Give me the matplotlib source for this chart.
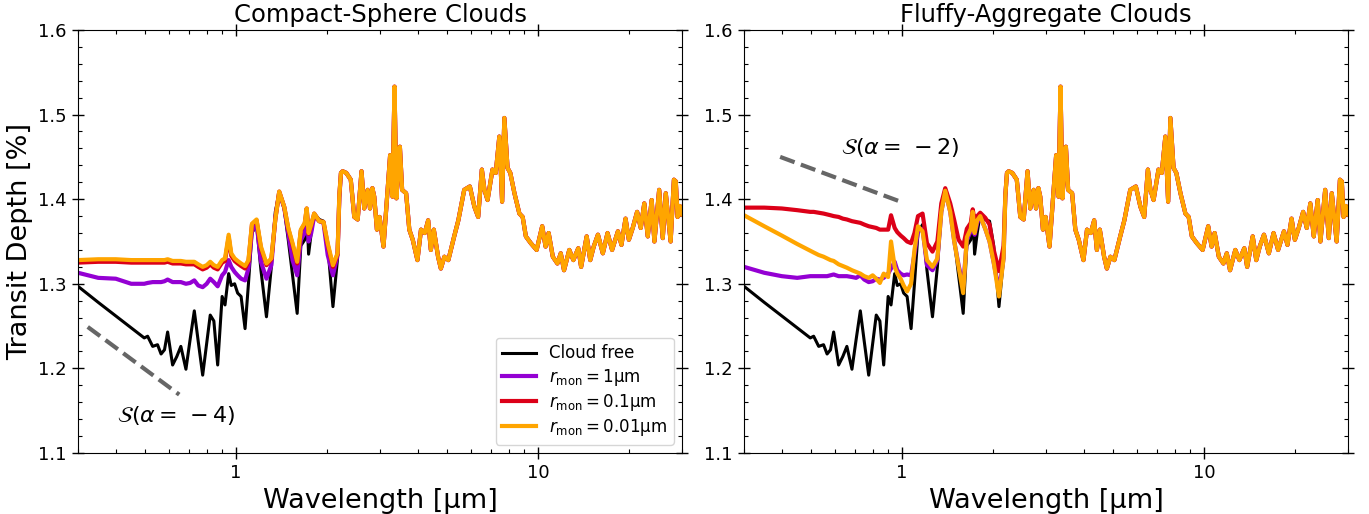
import matplotlib.pyplot as plt
from matplotlib.ticker import MultipleLocator, FuncFormatter, NullFormatter

# short-wave part (um), where cloud-free and cloudy spectra differ
wl_short = [0.30, 0.35, 0.40, 0.45, 0.497, 0.51, 0.53, 0.55, 0.565, 0.58,
            0.594, 0.617, 0.637, 0.657, 0.683, 0.705, 0.728, 0.75, 0.776, 0.80,
            0.822, 0.845, 0.87, 0.90, 0.92, 0.946, 0.965, 0.99, 1.013, 1.04,
            1.072, 1.10, 1.13, 1.17, 1.21, 1.262, 1.31, 1.35, 1.391, 1.445,
            1.49, 1.54, 1.595, 1.64, 1.69, 1.715, 1.74, 1.775, 1.816, 1.887,
            1.95, 2.013, 2.095, 2.17, 2.20]

free_short = [1.297, 1.278, 1.262, 1.248, 1.236, 1.238, 1.226, 1.228, 1.217, 1.222,
              1.243, 1.204, 1.214, 1.226, 1.199, 1.234, 1.268, 1.232, 1.192, 1.230,
              1.263, 1.256, 1.204, 1.285, 1.275, 1.312, 1.298, 1.300, 1.289, 1.285,
              1.247, 1.300, 1.360, 1.370, 1.316, 1.261, 1.320, 1.385, 1.408, 1.388,
              1.352, 1.310, 1.265, 1.345, 1.352, 1.388, 1.335, 1.360, 1.383, 1.376,
              1.374, 1.345, 1.273, 1.330, 1.400]

# compact spheres
cs_1_short = [1.313, 1.307, 1.306, 1.300, 1.300, 1.301, 1.302, 1.302, 1.302, 1.303,
              1.305, 1.302, 1.302, 1.302, 1.300, 1.301, 1.304, 1.298, 1.296, 1.300,
              1.306, 1.302, 1.297, 1.310, 1.314, 1.328, 1.320, 1.314, 1.310, 1.306,
              1.304, 1.318, 1.362, 1.372, 1.326, 1.306, 1.322, 1.378, 1.408, 1.390,
              1.360, 1.328, 1.310, 1.352, 1.360, 1.388, 1.350, 1.360, 1.380, 1.374,
              1.372, 1.334, 1.310, 1.334, 1.402]
cs_01_short = [1.325, 1.326, 1.326, 1.325, 1.325, 1.325, 1.325, 1.325, 1.325, 1.325,
               1.326, 1.324, 1.324, 1.324, 1.323, 1.323, 1.323, 1.320, 1.317, 1.319,
               1.323, 1.319, 1.317, 1.325, 1.327, 1.355, 1.333, 1.327, 1.324, 1.321,
               1.318, 1.326, 1.370, 1.375, 1.342, 1.322, 1.329, 1.376, 1.409, 1.391,
               1.365, 1.346, 1.324, 1.363, 1.371, 1.389, 1.359, 1.369, 1.383, 1.374,
               1.373, 1.346, 1.320, 1.335, 1.405]
cs_001_short = [1.328, 1.329, 1.329, 1.328, 1.328, 1.328, 1.328, 1.328, 1.328, 1.328,
                1.329, 1.327, 1.327, 1.327, 1.326, 1.326, 1.326, 1.323, 1.320, 1.322,
                1.326, 1.322, 1.320, 1.328, 1.330, 1.358, 1.336, 1.330, 1.327, 1.324,
                1.321, 1.328, 1.371, 1.376, 1.344, 1.324, 1.330, 1.376, 1.409, 1.391,
                1.366, 1.348, 1.326, 1.364, 1.372, 1.389, 1.360, 1.370, 1.383, 1.374,
                1.373, 1.348, 1.322, 1.336, 1.405]

# fluffy aggregates
fa_1_short = [1.320, 1.313, 1.309, 1.307, 1.309, 1.309, 1.309, 1.309, 1.309, 1.310,
              1.311, 1.309, 1.309, 1.309, 1.308, 1.307, 1.310, 1.305, 1.302, 1.303,
              1.306, 1.305, 1.307, 1.312, 1.318, 1.326, 1.316, 1.312, 1.310, 1.311,
              1.310, 1.335, 1.362, 1.365, 1.322, 1.316, 1.328, 1.385, 1.410, 1.385,
              1.350, 1.322, 1.297, 1.352, 1.362, 1.385, 1.358, 1.372, 1.380, 1.365,
              1.350, 1.325, 1.292, 1.330, 1.405]
fa_01_short = [1.390, 1.390, 1.389, 1.387, 1.385, 1.385, 1.384, 1.383, 1.382, 1.381,
               1.380, 1.379, 1.377, 1.376, 1.374, 1.373, 1.372, 1.370, 1.368, 1.367,
               1.366, 1.364, 1.364, 1.364, 1.381, 1.366, 1.361, 1.357, 1.354, 1.350,
               1.348, 1.360, 1.380, 1.383, 1.348, 1.338, 1.350, 1.395, 1.413, 1.395,
               1.375, 1.352, 1.344, 1.365, 1.372, 1.388, 1.375, 1.380, 1.384, 1.378,
               1.370, 1.340, 1.315, 1.345, 1.405]
fa_001_short = [1.381, 1.368, 1.357, 1.347, 1.339, 1.337, 1.334, 1.332, 1.330, 1.328,
                1.327, 1.323, 1.321, 1.319, 1.316, 1.314, 1.312, 1.309, 1.307, 1.310,
                1.306, 1.301, 1.312, 1.308, 1.350, 1.320, 1.312, 1.306, 1.298, 1.291,
                1.300, 1.340, 1.368, 1.362, 1.328, 1.320, 1.330, 1.385, 1.410, 1.385,
                1.350, 1.320, 1.289, 1.355, 1.365, 1.385, 1.360, 1.375, 1.380, 1.365,
                1.350, 1.325, 1.285, 1.330, 1.405]

# long-wave part, same for every model
wl_long = [2.227, 2.256, 2.32, 2.40, 2.465, 2.53, 2.605, 2.66, 2.73, 2.78,
           2.83, 2.87, 2.93, 2.99, 3.08, 3.16, 3.24, 3.30, 3.35, 3.40,
           3.45, 3.49, 3.55, 3.66, 3.75, 3.85, 3.99, 4.10, 4.22, 4.33,
           4.42, 4.52, 4.67, 4.77, 4.90, 5.05, 5.28, 5.45, 5.70, 5.95,
           6.16, 6.34, 6.52, 6.65, 6.81, 7.07, 7.25, 7.45, 7.61, 7.74,
           7.93, 8.10, 8.36, 8.68, 8.90, 9.12, 9.47, 9.90, 10.33, 10.6,
           10.85, 11.2, 11.6, 11.9, 12.2, 12.7, 13.1, 13.6, 13.9, 14.5,
           14.9, 15.3, 15.8, 16.4, 17.0, 17.6, 18.4, 18.9, 19.5, 20.0,
           20.6, 21.3, 21.9, 22.5, 23.1, 23.8, 24.3, 25.2, 25.9, 26.5,
           27.5, 28.2, 28.6, 29.0, 29.5, 30.0]
td_long = [1.431, 1.433, 1.431, 1.423, 1.379, 1.376, 1.433, 1.389, 1.411, 1.389,
           1.413, 1.403, 1.364, 1.379, 1.344, 1.399, 1.452, 1.403, 1.533, 1.401,
           1.440, 1.462, 1.411, 1.407, 1.364, 1.352, 1.328, 1.364, 1.360, 1.375,
           1.340, 1.364, 1.332, 1.318, 1.332, 1.328, 1.356, 1.375, 1.411, 1.415,
           1.391, 1.379, 1.435, 1.411, 1.399, 1.435, 1.431, 1.474, 1.397, 1.496,
           1.437, 1.431, 1.407, 1.383, 1.379, 1.356, 1.348, 1.340, 1.368, 1.344,
           1.360, 1.332, 1.324, 1.336, 1.316, 1.340, 1.328, 1.342, 1.320, 1.356,
           1.328, 1.344, 1.358, 1.336, 1.360, 1.340, 1.362, 1.346, 1.377, 1.352,
           1.366, 1.385, 1.366, 1.395, 1.356, 1.399, 1.350, 1.411, 1.354, 1.407,
           1.350, 1.423, 1.421, 1.379, 1.392, 1.382]

# scattering slope guides
slope4_wl = [0.323, 0.649]
slope4_td = [1.249, 1.169]
slope2_wl = [0.395, 0.99]
slope2_td = [1.450, 1.397]

labels = ['Cloud free', r'$r_{\rm mon}=1\mathrm{\mu m}$',
          r'$r_{\rm mon}=0.1\mathrm{\mu m}$', r'$r_{\rm mon}=0.01\mathrm{\mu m}$']
colors = ['black', '#9400D3', '#DC0018', '#FFA500']

wl = wl_short + wl_long
panels = [
    ('Compact-Sphere Clouds', [free_short, cs_1_short, cs_01_short, cs_001_short]),
    ('Fluffy-Aggregate Clouds', [free_short, fa_1_short, fa_01_short, fa_001_short]),
]

fig = plt.figure(figsize=(13.69, 5.14), dpi=100)
ax1 = fig.add_axes([0.057, 0.1187, 0.4412, 0.823])
ax2 = fig.add_axes([0.5435, 0.1187, 0.4412, 0.823])

for ax, (title, curves) in zip([ax1, ax2], panels):
    for short, lab, col in zip(curves, labels, colors):
        lw = 2.2 if col == 'black' else 3
        ax.plot(wl, short + td_long, color=col, lw=lw, label=lab)
    ax.set_xscale('log')
    ax.set_xlim(0.3, 30)
    ax.set_ylim(1.1, 1.6)
    ax.yaxis.set_major_locator(MultipleLocator(0.1))
    ax.yaxis.set_minor_locator(MultipleLocator(0.02))
    ax.xaxis.set_major_formatter(FuncFormatter(lambda v, p: '%g' % v))
    ax.xaxis.set_minor_formatter(NullFormatter())
    ax.tick_params(which='major', direction='inout', length=9, width=1,
                   top=True, right=True, labelsize=13)
    ax.tick_params(which='minor', direction='in', length=3, width=0.8,
                   top=True, right=True)
    ax.set_title(title, fontsize=17.5)
    ax.set_xlabel('Wavelength [μm]', fontsize=19.5)

ax1.plot(slope4_wl, slope4_td, '--', color='#666666', lw=3)
ax1.text(0.633, 1.144, r'$\mathcal{S}(\alpha=\,-4)$', fontsize=16,
         ha='center', va='center')
ax2.plot(slope2_wl, slope2_td, '--', color='#666666', lw=3)
ax2.text(0.99, 1.4605, r'$\mathcal{S}(\alpha=\,-2)$', fontsize=16,
         ha='center', va='center')

ax1.set_ylabel('Transit Depth [%]', fontsize=19.5)
ax1.legend(loc='lower right', fontsize=12, labelspacing=0.25)

fig.savefig('out.png', dpi=100)
